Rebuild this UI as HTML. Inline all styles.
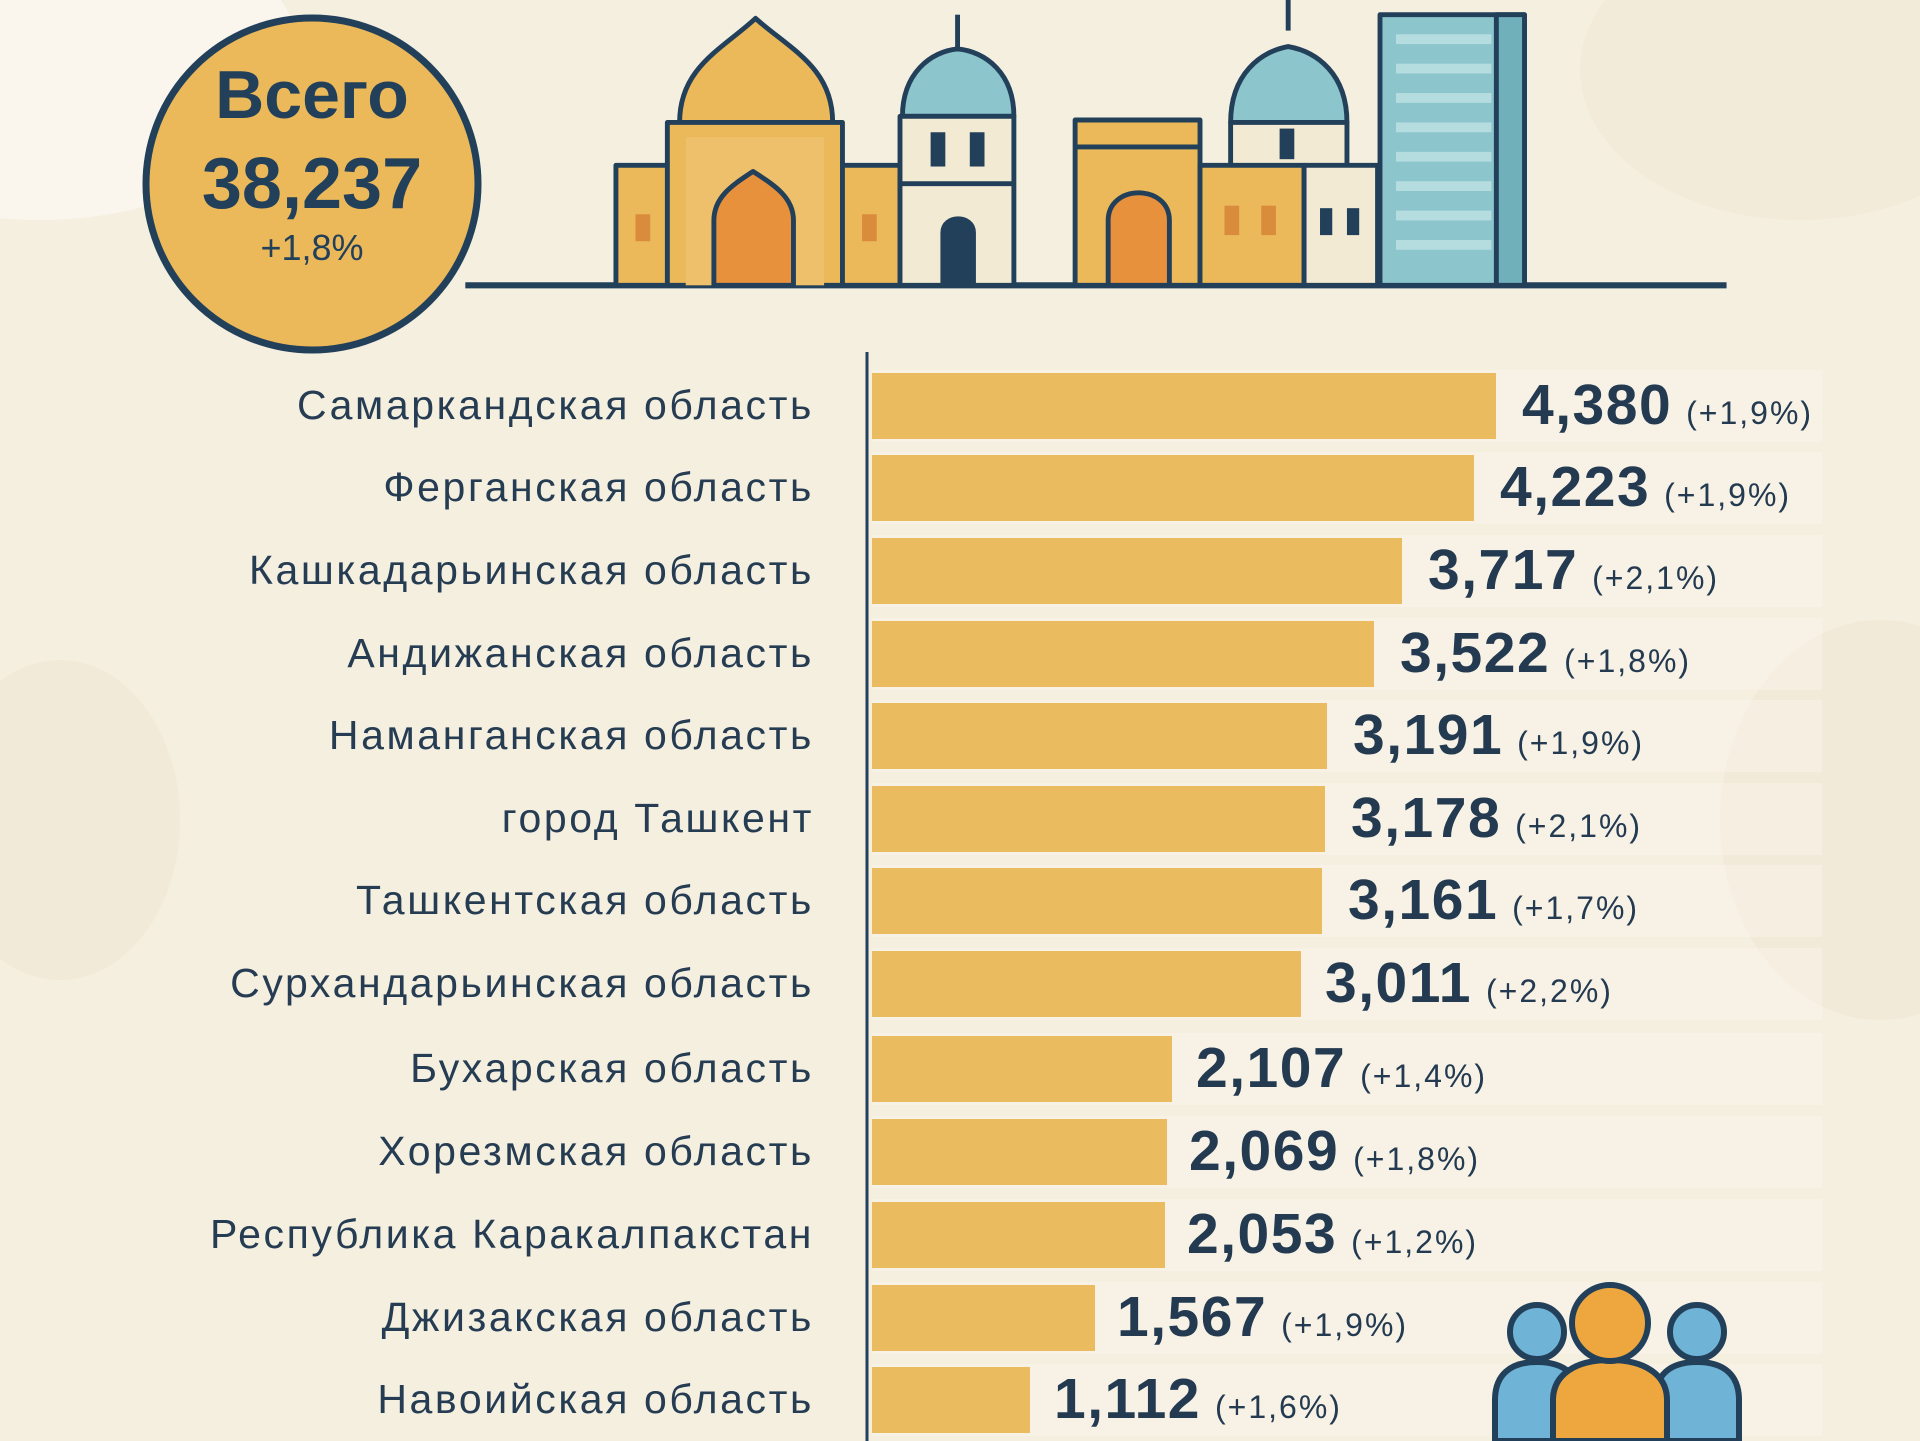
<!DOCTYPE html>
<html><head><meta charset="utf-8"><style>
html,body{margin:0;padding:0}
body{width:1920px;height:1441px;overflow:hidden;background:#f5efe0;position:relative;font-family:"Liberation Sans",sans-serif}
.lbl{position:absolute;right:1106px;font-size:41px;letter-spacing:2.6px;color:#253c52;white-space:nowrap}
.bar{position:absolute;left:872px;height:66px;background:#ebbb5f}
.strip{position:absolute;left:872px;width:950px;height:72px;background:#faf6ec;opacity:.45}
.val{position:absolute;white-space:nowrap;color:#233a51}
.val b{font-size:57px;font-weight:bold;letter-spacing:1.5px}
.val span{font-size:32px;margin-left:14px;letter-spacing:2px}
</style></head><body>
<svg width="1920" height="1441" style="position:absolute;left:0;top:0">
<ellipse cx="40" cy="60" rx="260" ry="160" fill="#faf6ee"/>
<ellipse cx="1800" cy="70" rx="220" ry="150" fill="#f0e8d6" opacity=".6"/>
<ellipse cx="60" cy="820" rx="120" ry="160" fill="#efe6d2" opacity=".6"/>
<ellipse cx="1880" cy="820" rx="160" ry="200" fill="#efe6d2" opacity=".5"/>
<g transform="scale(1.2245)" stroke="#23405a" stroke-width="4" stroke-linejoin="round">
<line x1="380" y1="233" x2="1410" y2="233" stroke-width="5"/>
<rect x="503" y="135" width="45" height="98" fill="#ebb85a"/>
<rect x="685" y="135" width="50" height="98" fill="#ebb85a"/>
<path d="M555 100 C555 55 590 40 617 15 C645 40 680 55 680 100 Z" fill="#ebb85a"/>
<rect x="545" y="100" width="143" height="133" fill="#ebb85a"/>
<rect x="560" y="112" width="113" height="121" fill="#efc06b" stroke="none"/>
<path d="M583 233 V180 C583 160 600 150 615 140 C630 150 648 160 648 180 V233 Z" fill="#e8913c"/>
<rect x="519" y="175" width="12" height="22" fill="#d98c3c" stroke="none"/>
<rect x="704" y="175" width="12" height="22" fill="#d98c3c" stroke="none"/>
<line x1="782" y1="12" x2="782" y2="40"/>
<path d="M737 95 C737 60 760 42 782 40 C805 42 828 60 828 95 Z" fill="#8cc5cc"/>
<rect x="735" y="95" width="93" height="138" fill="#f3ead3"/>
<line x1="735" y1="150" x2="828" y2="150"/>
<rect x="760" y="108" width="12" height="28" fill="#23405a" stroke="none"/>
<rect x="792" y="108" width="12" height="28" fill="#23405a" stroke="none"/>
<path d="M770 233 V190 C770 175 795 175 795 190 V233 Z" fill="#23405a"/>
<rect x="878" y="98" width="102" height="135" fill="#ebb85a"/>
<line x1="878" y1="120" x2="980" y2="120"/>
<path d="M905 233 V180 C905 150 955 150 955 180 V233 Z" fill="#e8913c"/>
<line x1="1052" y1="0" x2="1052" y2="25"/>
<path d="M1005 100 C1005 60 1030 42 1052 38 C1075 42 1100 60 1100 100 Z" fill="#8cc5cc"/>
<rect x="1005" y="100" width="95" height="40" fill="#f3ead3"/>
<rect x="1045" y="105" width="12" height="25" fill="#23405a" stroke="none"/>
<rect x="980" y="135" width="85" height="98" fill="#ebb85a"/>
<rect x="1000" y="168" width="12" height="24" fill="#d98c3c" stroke="none"/>
<rect x="1030" y="168" width="12" height="24" fill="#d98c3c" stroke="none"/>
<rect x="1065" y="135" width="60" height="98" fill="#f3ead3"/>
<rect x="1078" y="170" width="10" height="22" fill="#23405a" stroke="none"/>
<rect x="1100" y="170" width="10" height="22" fill="#23405a" stroke="none"/>
<rect x="1127" y="12" width="118" height="221" fill="#8cc5cc"/>
<rect x="1222" y="12" width="23" height="221" fill="#6fb0ba"/>
<g stroke="none" fill="#b5dde0">
<rect x="1140" y="28" width="78" height="8"/><rect x="1140" y="52" width="78" height="8"/><rect x="1140" y="76" width="78" height="8"/><rect x="1140" y="100" width="78" height="8"/><rect x="1140" y="124" width="78" height="8"/><rect x="1140" y="148" width="78" height="8"/><rect x="1140" y="172" width="78" height="8"/><rect x="1140" y="196" width="78" height="8"/>
</g>
</g>
<circle cx="312" cy="184" r="166" fill="#ebb85a" stroke="#23405a" stroke-width="7"/>
<text x="312" y="118" font-size="68" font-weight="bold" fill="#23405a" text-anchor="middle" font-family="Liberation Sans">Всего</text>
<text x="312" y="208" font-size="72" font-weight="bold" fill="#23405a" text-anchor="middle" font-family="Liberation Sans">38,237</text>
<text x="312" y="260" font-size="36" fill="#23405a" text-anchor="middle" font-family="Liberation Sans">+1,8%</text>
<line x1="867" y1="352" x2="867" y2="1441" stroke="#23405a" stroke-width="3"/>
</svg>

<div class="strip" style="top:370px"></div><div class="strip" style="top:452px"></div><div class="strip" style="top:535px"></div><div class="strip" style="top:618px"></div><div class="strip" style="top:700px"></div><div class="strip" style="top:783px"></div><div class="strip" style="top:865px"></div><div class="strip" style="top:948px"></div><div class="strip" style="top:1033px"></div><div class="strip" style="top:1116px"></div><div class="strip" style="top:1199px"></div><div class="strip" style="top:1282px"></div><div class="strip" style="top:1364px"></div>

<div class="bar" style="top:373px;width:624px"></div>
<div class="bar" style="top:455px;width:602px"></div>
<div class="bar" style="top:538px;width:530px"></div>
<div class="bar" style="top:621px;width:502px"></div>
<div class="bar" style="top:703px;width:455px"></div>
<div class="bar" style="top:786px;width:453px"></div>
<div class="bar" style="top:868px;width:450px"></div>
<div class="bar" style="top:951px;width:429px"></div>
<div class="bar" style="top:1036px;width:300px"></div>
<div class="bar" style="top:1119px;width:295px"></div>
<div class="bar" style="top:1202px;width:293px"></div>
<div class="bar" style="top:1285px;width:223px"></div>
<div class="bar" style="top:1367px;width:158px"></div>

<div class="lbl" style="top:382px">Самаркандская область</div>
<div class="lbl" style="top:464px">Ферганская область</div>
<div class="lbl" style="top:547px">Кашкадарьинская область</div>
<div class="lbl" style="top:630px">Андижанская область</div>
<div class="lbl" style="top:712px">Наманганская область</div>
<div class="lbl" style="top:795px">город Ташкент</div>
<div class="lbl" style="top:877px">Ташкентская область</div>
<div class="lbl" style="top:960px">Сурхандарьинская область</div>
<div class="lbl" style="top:1045px">Бухарская область</div>
<div class="lbl" style="top:1128px">Хорезмская область</div>
<div class="lbl" style="top:1211px">Республика Каракалпакстан</div>
<div class="lbl" style="top:1294px">Джизакская область</div>
<div class="lbl" style="top:1376px">Навоийская область</div>

<div class="val" style="left:1522px;top:372px"><b>4,380</b><span>(+1,9%)</span></div>
<div class="val" style="left:1500px;top:454px"><b>4,223</b><span>(+1,9%)</span></div>
<div class="val" style="left:1428px;top:537px"><b>3,717</b><span>(+2,1%)</span></div>
<div class="val" style="left:1400px;top:620px"><b>3,522</b><span>(+1,8%)</span></div>
<div class="val" style="left:1353px;top:702px"><b>3,191</b><span>(+1,9%)</span></div>
<div class="val" style="left:1351px;top:785px"><b>3,178</b><span>(+2,1%)</span></div>
<div class="val" style="left:1348px;top:867px"><b>3,161</b><span>(+1,7%)</span></div>
<div class="val" style="left:1325px;top:950px"><b>3,011</b><span>(+2,2%)</span></div>
<div class="val" style="left:1196px;top:1035px"><b>2,107</b><span>(+1,4%)</span></div>
<div class="val" style="left:1189px;top:1118px"><b>2,069</b><span>(+1,8%)</span></div>
<div class="val" style="left:1187px;top:1201px"><b>2,053</b><span>(+1,2%)</span></div>
<div class="val" style="left:1117px;top:1284px"><b>1,567</b><span>(+1,9%)</span></div>
<div class="val" style="left:1054px;top:1366px"><b>1,112</b><span>(+1,6%)</span></div>

<svg width="1920" height="1441" style="position:absolute;left:0;top:0" >
<g stroke="#23405a" stroke-width="6">
<path d="M1495 1441 V1400 C1495 1375 1510 1362 1537 1362 C1564 1362 1580 1375 1580 1400 V1441 Z" fill="#6fb3d6"/>
<path d="M1655 1441 V1400 C1655 1375 1670 1362 1697 1362 C1724 1362 1739 1375 1739 1400 V1441 Z" fill="#6fb3d6"/>
<circle cx="1537" cy="1332" r="27" fill="#6fb3d6"/>
<circle cx="1697" cy="1332" r="27" fill="#6fb3d6"/>
<path d="M1553 1441 V1400 C1553 1375 1575 1360 1610 1360 C1645 1360 1667 1375 1667 1400 V1441 Z" fill="#eda73e"/>
<circle cx="1610" cy="1323" r="38" fill="#eda73e"/>
</g>
</svg>
</body></html>
